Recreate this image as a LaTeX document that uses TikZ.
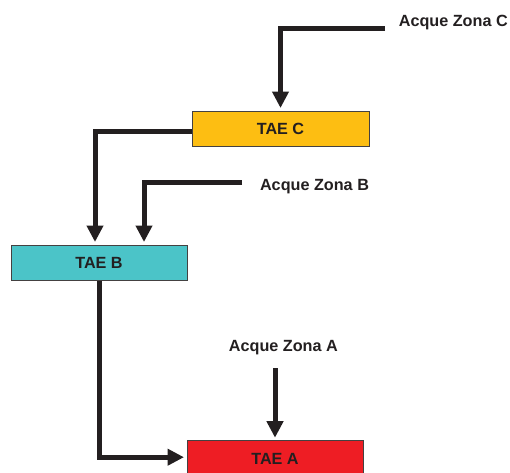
\documentclass[tikz,border=0pt]{standalone}
\usepackage{fontspec}
\setmainfont{Liberation Sans}
\usetikzlibrary{arrows.meta,calc}
\definecolor{ink}{HTML}{231F20}
\definecolor{ccol}{HTML}{FDBE12}
\definecolor{bcol}{HTML}{4BC4C8}
\definecolor{acol}{HTML}{EE1D24}
\tikzset{
  box/.style={draw=ink!85, line width=1pt, minimum height=35pt, inner sep=0pt,
    font=\fontsize{16.2}{19}\selectfont\bfseries, text=ink},
  lbl/.style={font=\fontsize{16.2}{19}\selectfont\bfseries, text=ink, inner sep=0pt},
  arr/.style={draw=ink, line width=5pt, line join=miter,
    -{Triangle[width=16pt,length=16.5pt]}, shorten >=2.5pt},
}
\begin{document}
\begin{tikzpicture}[x=1pt,y=-1pt]
\useasboundingbox (0,0) rectangle (510,472);
\node[box, fill=ccol, minimum width=177pt] (C) at (280.5,128.5) {TAE C};
\node[box, fill=bcol, minimum width=176pt] (B) at (99,262.5) {TAE B};
\node[box, fill=acol, minimum width=176pt, minimum height=37pt] (A) at (275,459.2) {TAE A};
\node[lbl] (tC) at (453.3,23) {Acque Zona C};
\node[lbl] (tB) at (314.5,187) {Acque Zona B};
\node[lbl] (tA) at (283.4,348) {Acque Zona A};
\coordinate (cin) at (385,28);
\coordinate (bin) at (242,182);
\coordinate (ain) at (275,368);
\draw[arr] (cin) -| (C.north);
\draw[arr] ([yshift=-3pt]C.west) -| ([xshift=-4pt]B.north);
\draw[arr] (bin) -| ([xshift=45pt]B.north);
\draw[arr] (B.south) |- ([yshift=2pt]A.west);
\draw[arr] (ain) -- (A.north);
\end{tikzpicture}
\end{document}
